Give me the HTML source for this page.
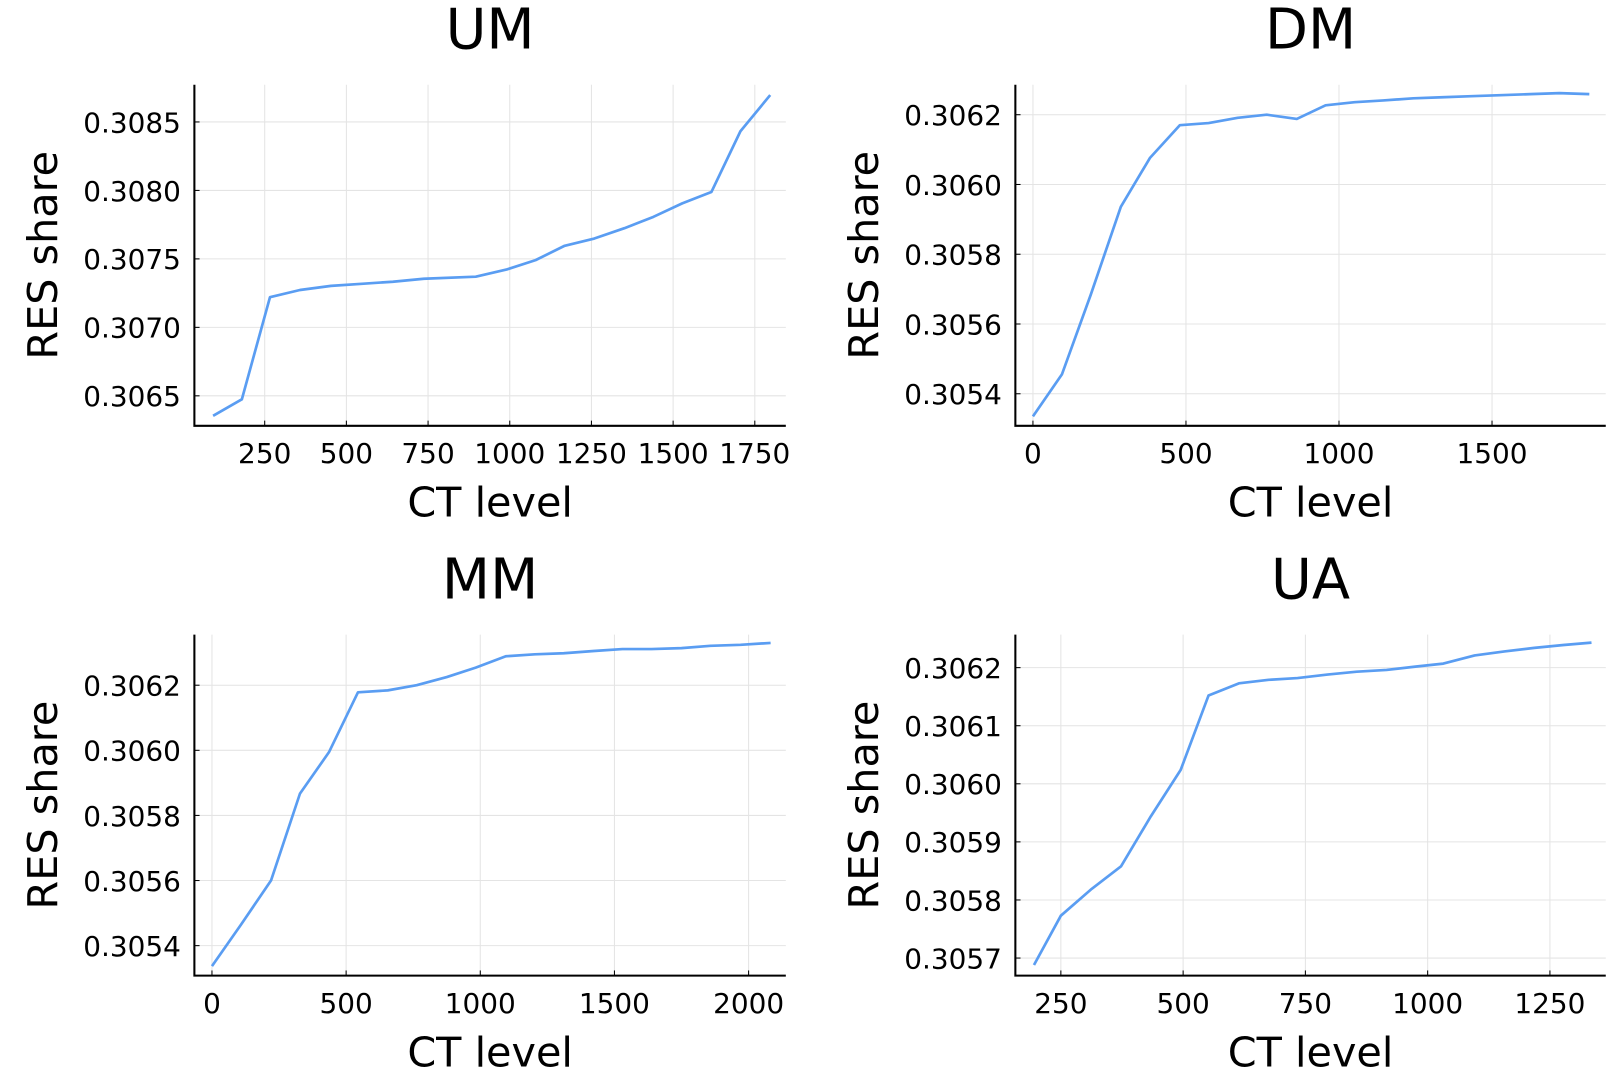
<!DOCTYPE html>
<html><head><meta charset="utf-8"><style>
html,body{margin:0;padding:0;background:#fff;}
svg{display:block;font-family:"DejaVu Sans","Liberation Sans",sans-serif;}
</style></head><body>
<svg id="chart" width="1613" height="1080" viewBox="0 0 1560 1045" preserveAspectRatio="none" xmlns="http://www.w3.org/2000/svg"></svg>
<script>
const umX=[92,180,266,358,453,547,642,737,896,991,1079,1168,1259,1351,1440,1528,1617,1706,1797];
const umY=[0.306354,0.306474,0.307220,0.307273,0.307303,0.307318,0.307333,0.307355,0.307370,0.307423,0.307491,0.307596,0.307649,0.307724,0.307807,0.307905,0.307988,0.308432,0.308696];
const umXTicks=[250,500,750,1000,1250,1500,1750];
const umYTicks=[0.3065,0.3070,0.3075,0.3080,0.3085];
const umYLabels=["0.3065","0.3070","0.3075","0.3080","0.3085"];

const dmX=[0,95,189,287,382,480,574,669,764,862,956,1051,1145,1243,1338,1432,1527,1625,1720,1818];
const dmY=[0.305335,0.305456,0.305684,0.305936,0.306076,0.306170,0.306176,0.306191,0.306200,0.306188,0.306227,0.306236,0.306241,0.306247,0.306250,0.306253,0.306256,0.306259,0.306262,0.306259];
const dmXTicks=[0,500,1000,1500];
const dmYTicks=[0.3054,0.3056,0.3058,0.3060,0.3062];
const dmYLabels=["0.3054","0.3056","0.3058","0.3060","0.3062"];

const mmX=[0,108,220,328,436,544,655,763,875,983,1095,1203,1311,1423,1530,1638,1750,1858,1970,2082];
const mmY=[0.305337,0.305464,0.305600,0.305867,0.305994,0.306178,0.306184,0.306200,0.306225,0.306254,0.306289,0.306295,0.306298,0.306305,0.306311,0.306311,0.306314,0.306321,0.306324,0.306330];
const mmXTicks=[0,500,1000,1500,2000];
const mmYTicks=[0.3054,0.3056,0.3058,0.3060,0.3062];
const mmYLabels=["0.3054","0.3056","0.3058","0.3060","0.3062"];

const uaX=[195,250,313,373,434,495,552,614,675,734,795,855,916,977,1032,1096,1157,1218,1278,1335];
const uaY=[0.305688,0.305773,0.305819,0.305858,0.305944,0.306024,0.306152,0.306173,0.306179,0.306182,0.306188,0.306193,0.306196,0.306202,0.306207,0.306221,0.306228,0.306234,0.306239,0.306243];
const uaXTicks=[250,500,750,1000,1250];
const uaYTicks=[0.3057,0.3058,0.3059,0.3060,0.3061,0.3062];
const uaYLabels=["0.3057","0.3058","0.3059","0.3060","0.3061","0.3062"];

const NS="http://www.w3.org/2000/svg";
const svg=document.getElementById('chart');
function mk(tag,attrs,parent){const e=document.createElementNS(NS,tag);for(const k in attrs)e.setAttribute(k,attrs[k]);(parent||svg).appendChild(e);return e;}
function lin(d0,d1,r0,r1){return v=>r0+(v-d0)/(d1-d0)*(r1-r0);}

function panel(o){
  const g=mk('g',{});
  
  
  const sx=lin(o.xd[0],o.xd[1],o.xr[0],o.xr[1]);
  const sy=lin(o.yd[0],o.yd[1],o.yr[0],o.yr[1]);
  const L=o.box[0],R=o.box[1],T=o.box[2],B=o.box[3];
  o.xt.forEach(t=>{
    const x=sx(t);
    const gl=mk('line',{x1:x,x2:x,y1:T,y2:B,stroke:'#e4e4e4','stroke-width':1},g);
    
    
    mk('line',{x1:x,x2:x,y1:B,y2:B-5,stroke:'#000','stroke-width':1},g);
    const tx=mk('text',{x:x,y:B+36,'font-size':27,'text-anchor':'middle',fill:'#000'},g);
    tx.textContent=String(t);
    
    
  });
  o.yt.forEach((t,i)=>{
    const y=sy(t);
    const gl=mk('line',{x1:L,x2:R,y1:y,y2:y,stroke:'#e4e4e4','stroke-width':1},g);
    
    
    mk('line',{x1:L,x2:L+5,y1:y,y2:y,stroke:'#000','stroke-width':1},g);
    const tx=mk('text',{x:L-13,y:y+10,'font-size':27,'text-anchor':'end',fill:'#000'},g);
    tx.textContent=o.yl[i];
    
    
  });
  const ax=mk('path',{d:`M${L},${T}V${B}H${R}`,fill:'none',stroke:'#000','stroke-width':2},g);
  
  
  const pts=o.x.map((v,i)=>sx(v).toFixed(1)+','+sy(o.y[i]).toFixed(1)).join(' ');
  const pl=mk('polyline',{points:pts,fill:'none',stroke:'#5a9df2','stroke-width':2.6,'stroke-linejoin':'round'},g);
  
  
  const cx=(L+R)/2;
  const ti=mk('text',{x:cx,y:T-35,'font-size':54,'text-anchor':'middle',fill:'#000'},g);
  ti.textContent=o.name;
  
  
  const xl=mk('text',{x:cx,y:B+88,'font-size':40,'text-anchor':'middle',fill:'#000'},g);
  xl.textContent='CT level';
  
  
  const yc=(T+B)/2;
  const yl=mk('text',{x:0,y:0,'font-size':40,'text-anchor':'middle',fill:'#000',transform:`translate(${L-133},${yc}) rotate(-90)`},g);
  yl.textContent='RES share';
  
  
}
panel({name:'UM',x:umX,y:umY,xt:umXTicks,yt:umYTicks,yl:umYLabels,box:[188,760,82,412],xd:[250,1750],xr:[256,730],yd:[0.3065,0.3085],yr:[383,118]});
panel({name:'DM',x:dmX,y:dmY,xt:dmXTicks,yt:dmYTicks,yl:dmYLabels,box:[982,1553,82,412],xd:[0,1500],xr:[999,1443],yd:[0.3054,0.3062],yr:[381,111]});
panel({name:'MM',x:mmX,y:mmY,xt:mmXTicks,yt:mmYTicks,yl:mmYLabels,box:[188,760,614,944],xd:[0,2000],xr:[205,724],yd:[0.3054,0.3062],yr:[915,663]});
panel({name:'UA',x:uaX,y:uaY,xt:uaXTicks,yt:uaYTicks,yl:uaYLabels,box:[982,1553,614,944],xd:[250,1250],xr:[1026,1499],yd:[0.3057,0.3062],yr:[927,646]});
</script>
</body></html>
